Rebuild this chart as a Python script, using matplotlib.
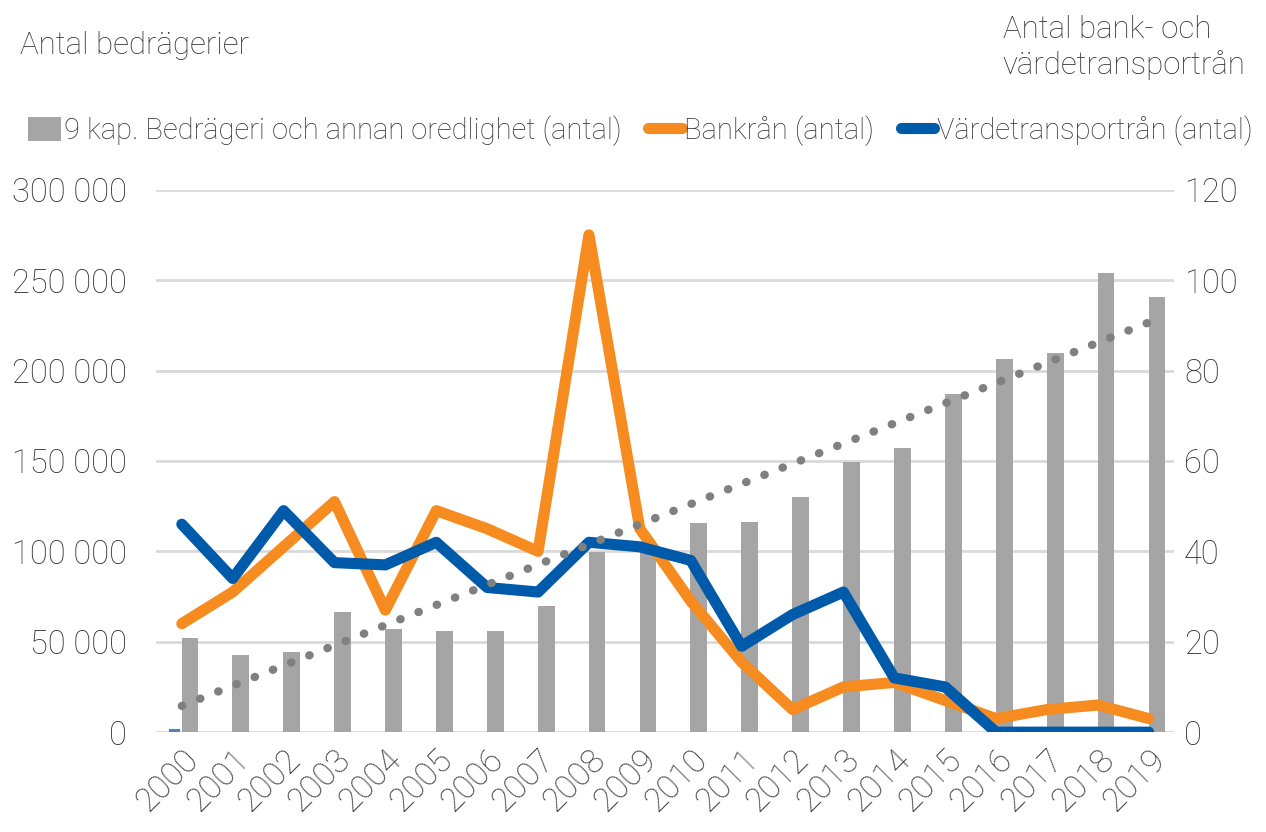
import numpy as np
import matplotlib
matplotlib.use('Agg')
import matplotlib.pyplot as plt
from matplotlib.patches import Patch
from matplotlib.lines import Line2D

plt.rcParams['font.family'] = ['Roboto', 'DejaVu Sans']

###   Data

years = np.arange(2000, 2020)

bedrageri = [52000, 42600, 44300, 66400, 57000, 55900, 55900, 69700, 99600, 101000,
             115700, 116300, 130000, 149500, 157200, 187000, 206400, 209800, 254000, 240800]

dold_serie = [1500] + [0]*19

bankran = [24, 31, 41, 51, 27, 49, 45, 40, 110, 45,
           29, 15.5, 5, 10, 11, 7, 3, 5, 6, 3]

vardetransportran = [46, 34, 49, 37.5, 37, 42, 32, 31, 42, 41,
                     38, 19, 26, 31, 12, 10, 0, 0, 0, 0]

left_ticks = [0, 50000, 100000, 150000, 200000, 250000, 300000]
left_labels = ['0', '50 000', '100 000', '150 000', '200 000', '250 000', '300 000']
right_ticks = [0, 20, 40, 60, 80, 100, 120]

c_bar = '#a5a5a5'
c_orange = '#f68b1f'
c_blue = '#005aaa'
c_trend = '#808080'
c_grid = '#d9d9d9'
c_text = '#333333'

fig = plt.figure(figsize=(12.66, 8.32), dpi=100)
ax = fig.add_axes([0.1235, 0.12, 0.804, 0.652])
ax2 = ax.twinx()

# { Bars (left axis)

ax.bar(years + 0.16, bedrageri, width=0.33, color=c_bar, zorder=2)
ax.bar(years - 0.14, dold_serie, width=0.22, color='#4f81bd', zorder=2)

ax.set_xlim(1999.5, 2019.5)
ax.set_ylim(0, 300000)
ax.set_yticks(left_ticks)
ax.set_yticklabels(left_labels)
ax.yaxis.grid(True, color=c_grid, linewidth=2)
ax.set_axisbelow(True)

# }

# { Lines (right axis)

ax2.plot(years, bankran, color=c_orange, linewidth=8,
         solid_capstyle='round', solid_joinstyle='round', zorder=3)
ax2.plot(years, vardetransportran, color=c_blue, linewidth=8,
         solid_capstyle='round', solid_joinstyle='round', zorder=3)

# linear trend of bars, drawn in left-axis coordinates on top
k, m = np.polyfit(years, bedrageri, 1)
ax2.plot(years, k*years + m, transform=ax.transData, color=c_trend,
         linewidth=6, linestyle=(0, (0.05, 2.3)), dash_capstyle='round', zorder=4)

ax2.set_ylim(0, 120)
ax2.set_yticks(right_ticks)

# }

for a in (ax, ax2):
    for s in a.spines.values():
        s.set_visible(False)
    a.tick_params(length=0, labelsize=23.5, labelcolor=c_text)

ax.tick_params(axis='y', pad=21)
ax2.tick_params(axis='y', pad=7)

ax.set_xticks(years)
ax.set_xticklabels([str(y) for y in years], rotation=45, ha='right',
                   rotation_mode='anchor', fontsize=24)
ax.tick_params(axis='x', pad=8)

for lbl in ax.get_xticklabels() + ax.get_yticklabels() + ax2.get_yticklabels():
    lbl.set_fontweight('light')

# { Titles and legend

fig.text(0.016, 0.945, 'Antal bedrägerier', fontsize=22.5, color=c_text,
         fontweight='light', va='center')
fig.text(0.792, 0.943, 'Antal bank- och\nvärdetransportrån', fontsize=22.5, color=c_text,
         fontweight='light', va='center', linespacing=1.25)

handles = [Patch(facecolor=c_bar),
           Line2D([], [], color=c_orange, linewidth=8, solid_capstyle='round'),
           Line2D([], [], color=c_blue, linewidth=8, solid_capstyle='round')]
labels = ['9 kap. Bedrägeri och annan oredlighet (antal)', 'Bankrån (antal)',
          'Värdetransportrån (antal)']
leg = fig.legend(handles, labels, loc='center left', bbox_to_anchor=(0.001, 0.843),
                 ncol=3, frameon=False, fontsize=21, handlelength=1.15,
                 handletextpad=0.1, columnspacing=0.9, handleheight=0.9)
for t in leg.get_texts():
    t.set_color(c_text)
    t.set_fontweight('light')

# }

fig.savefig('out.png', dpi=100)
